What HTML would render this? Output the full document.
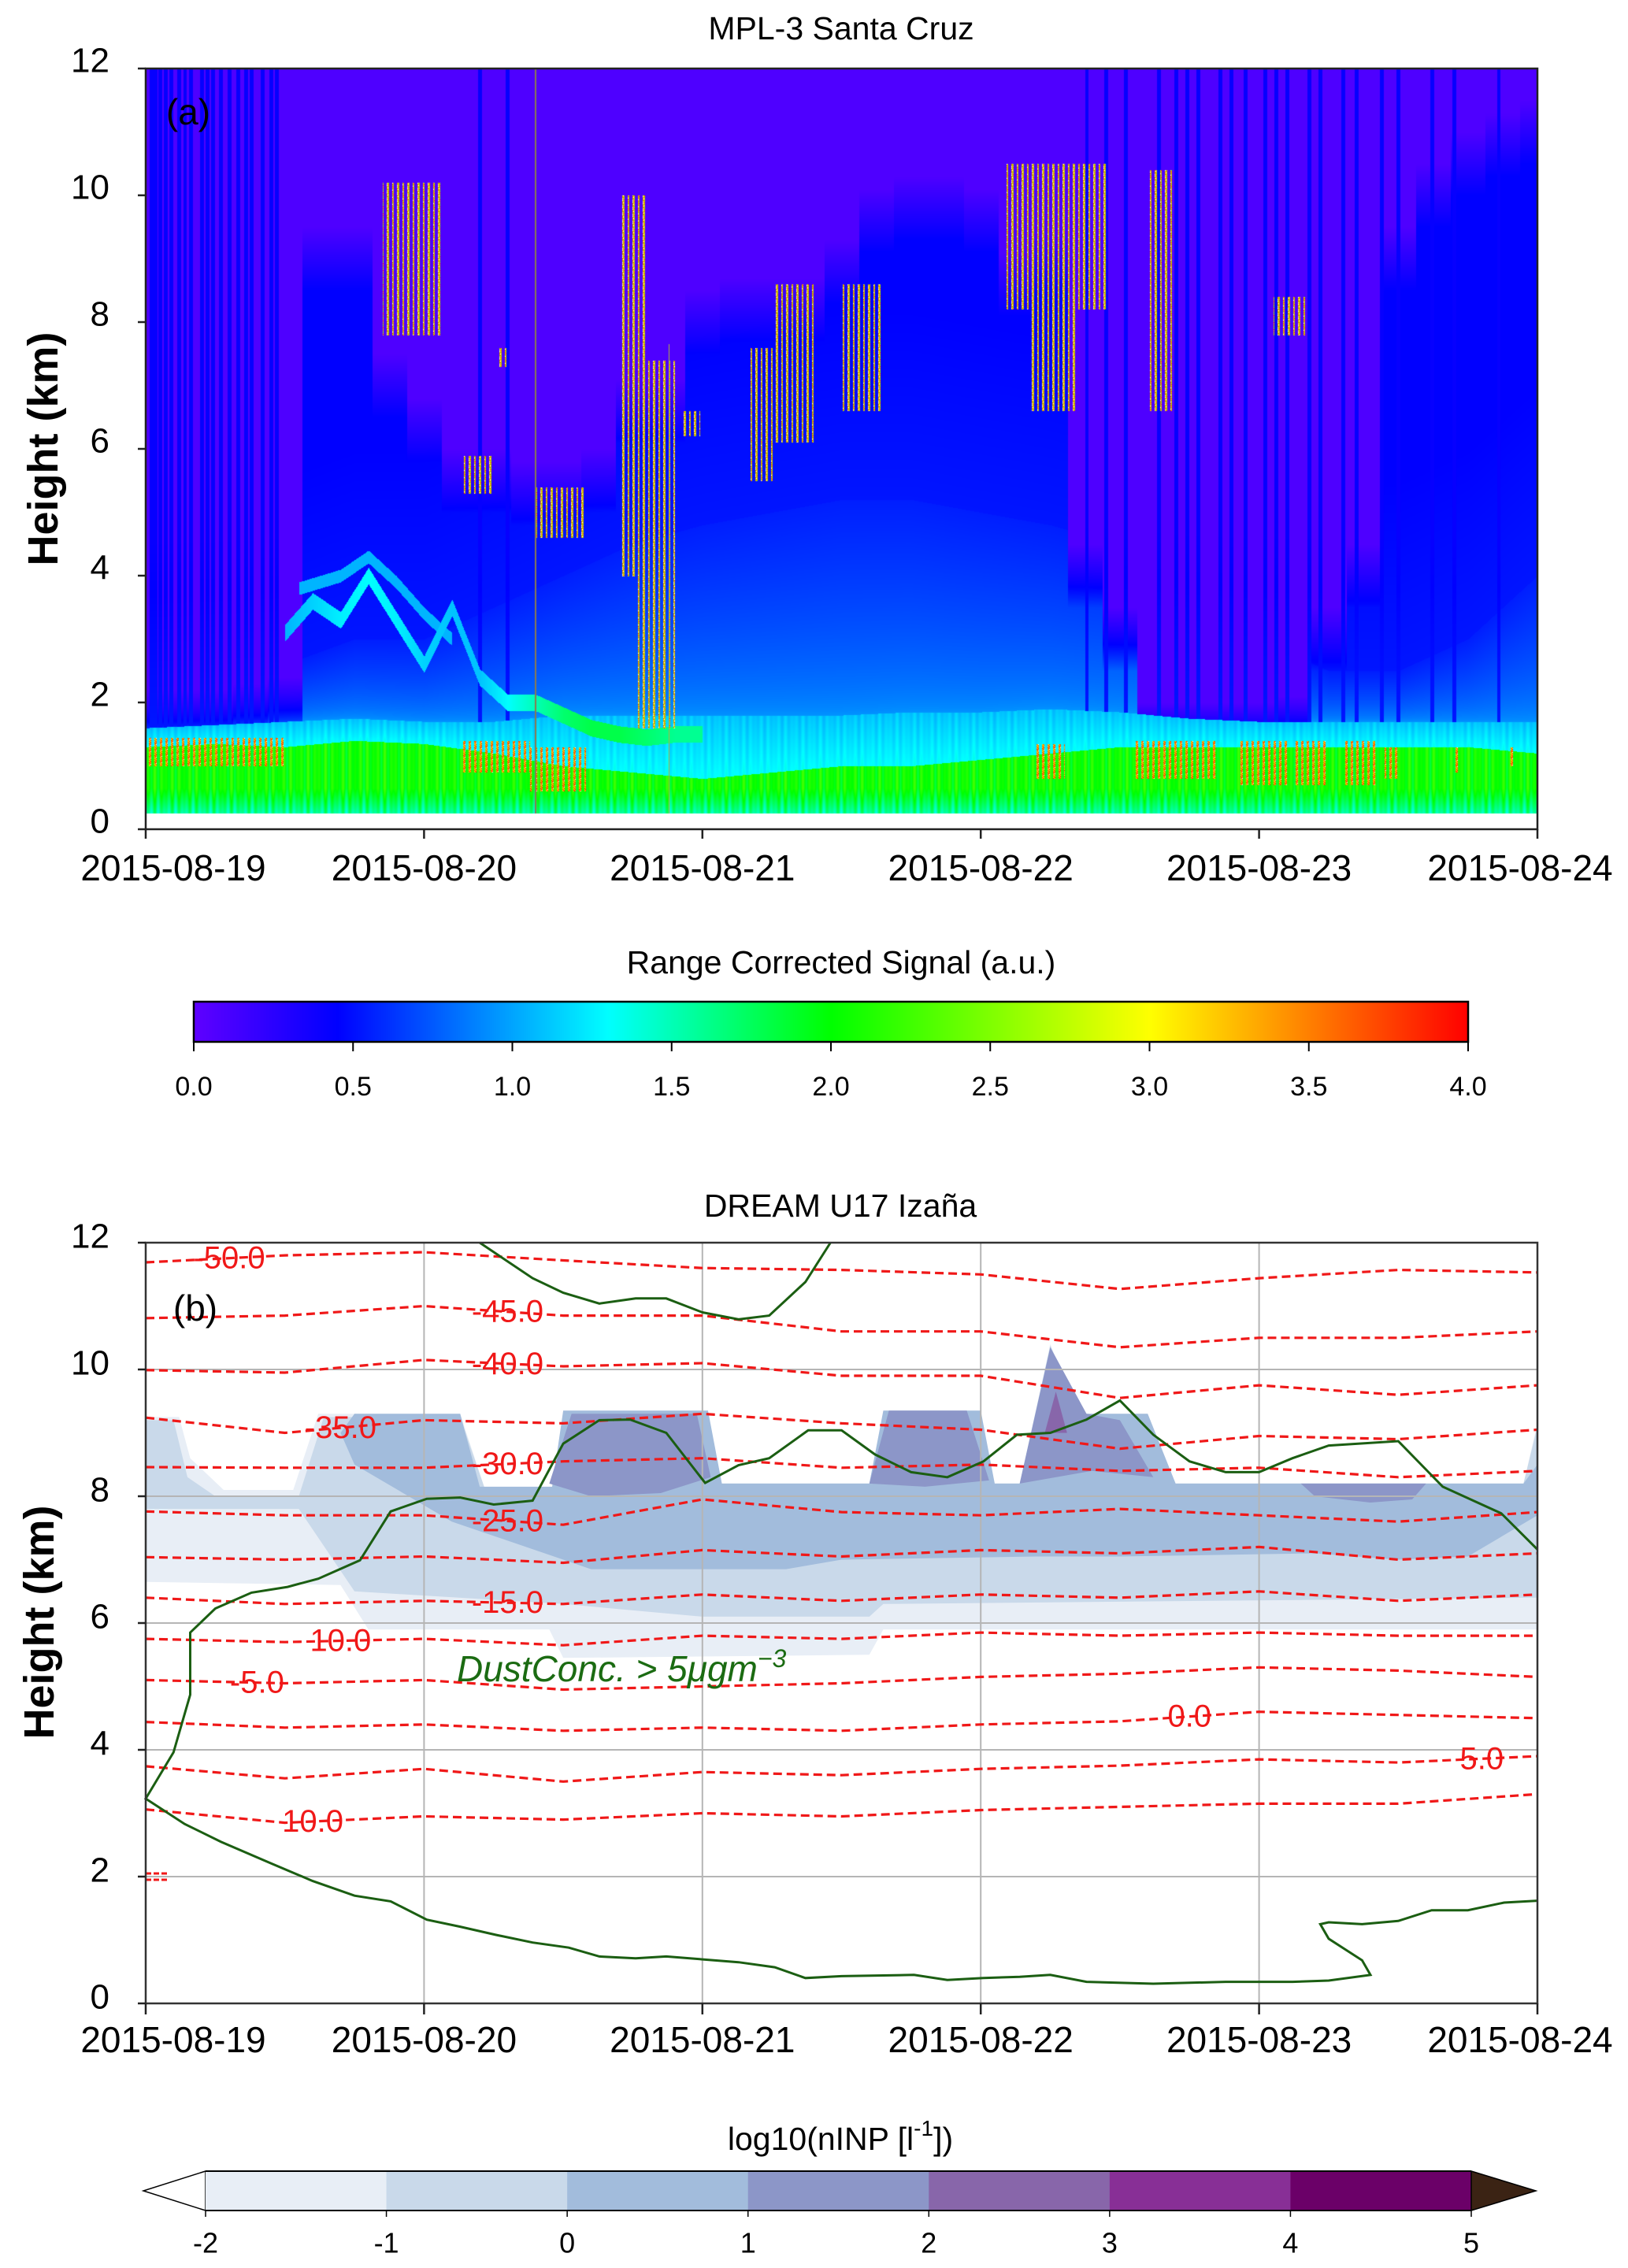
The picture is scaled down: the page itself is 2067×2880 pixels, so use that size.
<!DOCTYPE html>
<html><head><meta charset="utf-8"><title>MPL-3 Santa Cruz / DREAM U17 Izaña</title>
<style>
html,body{margin:0;padding:0;background:#fff;}
#page{position:relative;width:2067px;height:2880px;overflow:hidden;background:#fff;font-family:"Liberation Sans",sans-serif;}
canvas{position:absolute;}
svg{position:absolute;left:0;top:0;}
</style></head>
<body>
<div id="page">
<canvas id="lidar" width="1767" height="966" style="left:185px;top:87px;width:1767px;height:966px"></canvas>
<canvas id="cbarA" width="1618" height="51" style="left:246px;top:1272px;width:1618px;height:51px"></canvas>
<svg id="svg" width="2067" height="2880"></svg>
</div>
<script>
// ---------- Panel (a) data ----------
const purpleBase=[1.7,1.7,1.7,1.8,1.9,9.0,9.0,7.0,6.3,5.5,5.5,5.3,5.3,5.5,6.6,6.6,8.0,8.2,8.2,8.2,8.8,9.6,9.8,9.8,9.6,8.6,8.9,4.0,3.0,1.5,1.5,1.5,1.5,1.6,3.0,4.0,9.0,10.0,10.5,10.8,11.0];
const blTop=[1.3,1.35,1.3,1.4,1.35,1.2,1.0,0.9,0.8,0.9,1.0,1.0,1.1,1.2,1.3,1.3,1.3,1.3,1.3,1.3,1.2];
const cyanTop=[1.6,1.65,1.7,1.75,1.7,1.7,1.8,1.8,1.8,1.8,1.8,1.85,1.85,1.9,1.85,1.75,1.7,1.7,1.7,1.7,1.7];
const lightBlueTop=[2.3,2.4,2.6,3.0,3.0,3.5,4.0,4.5,4.8,5.0,5.2,5.2,5.0,4.8,4.5,4.0,3.0,2.5,2.5,3.0,4.0];
const stripeDays=[0.02,0.035,0.05,0.07,0.09,0.12,0.14,0.16,0.2,0.22,0.24,0.27,0.3,0.33,0.36,0.38,0.42,0.45,0.47,1.2,1.3,3.38,3.45,3.52,3.64,3.7,3.74,3.78,3.86,3.9,3.95,4.02,4.06,4.1,4.18,4.22,4.3,4.35,4.44,4.5,4.62,4.7,4.86];
const streakT=[0.5,0.6,0.7,0.8,0.9,1.0,1.1,1.2,1.3,1.4,1.5,1.6,1.7,1.8,1.9,2.0];
const streakH=[3.1,3.6,3.3,4.0,3.3,2.6,3.5,2.4,2.0,2.0,1.8,1.6,1.5,1.45,1.5,1.5];
const streakV=[1.05,1.15,1.25,1.3,1.25,1.15,1.1,1.1,1.3,1.5,1.7,1.8,1.8,1.7,1.6,1.6];
const streak2T=[0.55,0.7,0.8,0.9,1.0,1.1];
const streak2H=[3.8,4.0,4.3,3.9,3.4,3.0];
const clouds=[[0.85,1.06,7.8,10.2],[1.27,1.30,7.3,7.6],[1.14,1.25,5.3,5.9],[1.40,1.58,4.6,5.4],[1.71,1.80,4.0,10.0],[1.76,1.90,1.6,7.4],[1.93,1.99,6.2,6.6],[2.16,2.26,5.5,7.6],[2.26,2.41,6.1,8.6],[2.50,2.64,6.6,8.6],[3.08,3.45,8.2,10.5],[3.18,3.35,6.6,8.2],[3.60,3.69,6.6,10.4],[4.05,4.17,7.8,8.4]];
const hotspots=[[0,0.5,1.0,1.45],[1.13,1.38,0.9,1.4],[1.38,1.58,0.6,1.3],[3.2,3.3,0.8,1.35],[3.55,3.85,0.8,1.4],[3.93,4.1,0.7,1.4],[4.12,4.25,0.7,1.4],[4.3,4.42,0.7,1.4],[4.45,4.5,0.8,1.3],[4.7,4.72,0.9,1.3],[4.9,4.92,1.0,1.3]];
const dayLabels=["2015-08-19","2015-08-20","2015-08-21","2015-08-22","2015-08-23","2015-08-24"];
const heightTicks=[0,2,4,6,8,10,12];
const signalTicks=[0.0,0.5,1.0,1.5,2.0,2.5,3.0,3.5,4.0];

// ---------- Panel (b) data ----------
const contourLevels=[-50,-45,-40,-35,-30,-25,-20,-15,-10,-5,0,5,10];
const contourTimes=[0,0.5,1,1.5,2,2.5,3,3.5,4,4.5,5];
const cM50=[11.69,11.8,11.85,11.72,11.6,11.57,11.5,11.27,11.44,11.57,11.53];
const cM45=[10.81,10.85,11.0,10.85,10.85,10.6,10.6,10.35,10.5,10.5,10.6];
const cM40=[9.99,9.95,10.15,10.05,10.1,9.9,9.9,9.55,9.75,9.6,9.75];
const cM35=[9.24,9.0,9.2,9.15,9.3,9.15,9.05,8.75,8.95,8.9,9.05];
const cM30=[8.46,8.45,8.45,8.55,8.6,8.45,8.5,8.4,8.45,8.3,8.4];
const cM25=[7.76,7.7,7.7,7.55,7.95,7.75,7.7,7.8,7.7,7.6,7.75];
const cM20=[7.04,7.0,7.05,6.95,7.15,7.05,7.15,7.1,7.2,7.0,7.1];
const cM15=[6.4,6.3,6.35,6.3,6.45,6.35,6.45,6.4,6.5,6.35,6.45];
const cM10=[5.75,5.7,5.75,5.65,5.8,5.75,5.85,5.8,5.85,5.8,5.8];
const cM05=[5.1,5.05,5.1,4.95,5.0,5.05,5.15,5.2,5.3,5.25,5.15];
const c000=[4.44,4.35,4.4,4.3,4.35,4.3,4.4,4.45,4.6,4.55,4.5];
const cP05=[3.74,3.55,3.7,3.5,3.65,3.6,3.7,3.75,3.85,3.8,3.9];
const cP10=[3.06,2.85,2.95,2.9,3.0,2.95,3.05,3.1,3.15,3.15,3.3];
const contourLines=[cM50,cM45,cM40,cM35,cM30,cM25,cM20,cM15,cM10,cM05,c000,cP05,cP10];
const labelLevels=["-50.0","-45.0","-40.0","-35.0","-30.0","-25.0","-15.0","10.0","-5.0","0.0","5.0","10.0"];
const labelIndex=[0,1,2,3,4,5,7,8,9,10,11,12];
const labelDay=[0.3,1.3,1.3,0.7,1.3,1.3,1.3,0.7,0.4,3.75,4.8,0.6];
const inpM2=[[0,9.25],[0.12,9.25],[0.16,8.6],[0.28,8.1],[0.53,8.1],[0.62,9.3],[1.13,9.3],[1.22,8.1],[1.46,8.1],[1.5,9.35],[2.02,9.35],[2.07,8.2],[2.6,8.2],[2.65,9.35],[3.0,9.35],[3.05,8.2],[3.14,8.2],[3.25,10.4],[3.35,9.3],[3.6,9.3],[3.7,8.2],[4.95,8.2],[5.0,9.15],[5.0,5.9],[2.65,5.9],[2.6,5.5],[1.5,5.45],[1.45,5.9],[0.8,5.9],[0.7,6.6],[0,6.65]];
const inpM1=[[0,9.2],[0.1,9.2],[0.15,8.3],[0.25,8.0],[0.55,8.0],[0.64,9.25],[1.13,9.25],[1.22,8.1],[1.46,8.1],[1.5,9.3],[2.02,9.3],[2.07,8.2],[2.6,8.2],[2.65,9.3],[3.0,9.3],[3.05,8.2],[3.14,8.2],[3.25,10.38],[3.35,9.28],[3.6,9.28],[3.7,8.2],[4.95,8.2],[5.0,9.1],[5.0,6.4],[2.65,6.3],[2.6,6.1],[2.0,6.1],[1.5,6.3],[0.75,6.5],[0.55,7.8],[0,7.8]];
const inp0=[[0.7,9.0],[0.75,9.3],[1.13,9.3],[1.2,8.15],[1.46,8.15],[1.5,9.35],[2.02,9.35],[2.07,8.2],[2.6,8.2],[2.65,9.35],[3.0,9.35],[3.05,8.2],[3.14,8.2],[3.25,10.35],[3.35,9.3],[3.6,9.3],[3.7,8.2],[4.95,8.2],[5.0,8.5],[5.0,7.7],[4.75,7.05],[4.5,7.0],[4.2,7.1],[3.5,7.05],[3.2,7.05],[2.5,7.0],[2.3,6.85],[1.6,6.85],[1.5,7.0],[1.1,7.6],[0.75,8.5]];
const inp1a=[[1.45,8.2],[1.53,9.3],[1.98,9.3],[2.03,8.3],[1.85,8.05],[1.6,8.0]];
const inp1b=[[2.6,8.2],[2.67,9.35],[2.95,9.35],[3.03,8.25],[2.8,8.15]];
const inp1c=[[3.14,8.2],[3.25,10.35],[3.38,9.3],[3.5,9.2],[3.62,8.3],[3.4,8.4]];
const inp1d=[[4.15,8.2],[4.6,8.2],[4.55,7.95],[4.4,7.9],[4.2,8.0]];
const inp2a=[[3.23,9.0],[3.27,9.65],[3.31,9.0]];
const dustUpper=[[1.2,12.0],[1.39,11.44],[1.5,11.21],[1.63,11.04],[1.76,11.12],[1.87,11.12],[2.0,10.9],[2.13,10.79],[2.24,10.85],[2.37,11.38],[2.46,12.0]];
const dustMain=[[5.0,7.16],[4.87,7.73],[4.77,7.93],[4.66,8.15],[4.5,8.87],[4.25,8.8],[4.12,8.6],[4.0,8.38],[3.88,8.38],[3.75,8.55],[3.62,8.97],[3.5,9.51],[3.38,9.21],[3.25,9.0],[3.13,8.97],[3.01,8.55],[2.88,8.3],[2.75,8.38],[2.62,8.66],[2.5,9.04],[2.38,9.04],[2.24,8.6],[2.13,8.49],[2.01,8.21],[1.87,9.0],[1.74,9.21],[1.63,9.2],[1.5,8.83],[1.39,7.93],[1.25,7.87],[1.13,7.98],[1.01,7.96],[0.88,7.76],[0.77,6.99],[0.62,6.7],[0.51,6.57],[0.38,6.48],[0.25,6.23],[0.16,5.85],[0.16,4.87],[0.1,3.96],[0,3.23],[0.14,2.83],[0.27,2.55],[0.45,2.21],[0.6,1.93],[0.75,1.7],[0.88,1.61],[1.01,1.32],[1.13,1.21],[1.26,1.08],[1.39,0.96],[1.52,0.88],[1.63,0.74],[1.76,0.71],[1.87,0.74],[2.13,0.65],[2.26,0.57],[2.37,0.4],[2.5,0.43],[2.76,0.45],[2.88,0.37],[3.01,0.4],[3.14,0.42],[3.25,0.45],[3.38,0.34],[3.62,0.31],[3.88,0.34],[4.12,0.34],[4.25,0.36],[4.4,0.45],[4.37,0.68],[4.25,1.02],[4.22,1.25],[4.25,1.28],[4.37,1.25],[4.5,1.3],[4.62,1.47],[4.75,1.47],[4.88,1.59],[5.0,1.62]];
const inpColors=["#e8eef6","#c9d9ea","#a2bcdc","#8c96c8","#8866aa","#882f96","#6b0068"];
const inpTicks=["-2","-1","0","1","2","3","4","5"];

// ---------- scales ----------
const X0=185,X1=1952;
const xd=d=>X0+d*(X1-X0)/5;
const yA=k=>1053-k*80.5;
const yB=k=>2544-k*80.5;
const NS="http://www.w3.org/2000/svg";
const svg=document.getElementById('svg');
function mk(tag,attrs,parent){const e=document.createElementNS(NS,tag);for(const k in attrs)e.setAttribute(k,attrs[k]);(parent||svg).appendChild(e);return e;}
function txt(s,x,y,size,opts){const e=mk('text',Object.assign({x:x,y:y,'font-size':size,'font-family':'"Liberation Sans",sans-serif','text-anchor':'middle','dominant-baseline':'central',fill:'#000'},opts||{}));e.textContent=s;return e;}

// ---------- lidar heatmap ----------
function interp(arr,step,t){const i=t/step;const i0=Math.max(0,Math.min(arr.length-1,Math.floor(i)));const i1=Math.min(arr.length-1,i0+1);const f=Math.max(0,Math.min(1,i-i0));return arr[i0]*(1-f)+arr[i1]*f;}
function interpXY(ts,hs,t){if(t<ts[0]||t>ts[ts.length-1])return null;for(let i=0;i<ts.length-1;i++){if(t>=ts[i]&&t<=ts[i+1]){const f=(t-ts[i])/(ts[i+1]-ts[i]);return hs[i]*(1-f)+hs[i+1]*f;}}return hs[hs.length-1];}
const cstops=[[0,[95,0,255]],[0.45,[0,0,255]],[1.3,[0,255,255]],[2.0,[0,255,0]],[3.0,[255,255,0]],[4.0,[255,0,0]]];
function cmap(v){if(v>4.05)return[255,255,255];if(v<=0)return cstops[0][1];for(let i=0;i<cstops.length-1;i++){const a=cstops[i],b=cstops[i+1];if(v<=b[0]){const f=(v-a[0])/(b[0]-a[0]);return[a[1][0]+(b[1][0]-a[1][0])*f,a[1][1]+(b[1][1]-a[1][1])*f,a[1][2]+(b[1][2]-a[1][2])*f];}}return[255,0,0];}
(function(){
 const cv=document.getElementById('lidar');const ctx=cv.getContext('2d');const W=cv.width,H=cv.height;
 const img=ctx.createImageData(W,H);const d=img.data;
 for(let px=0;px<W;px++){
  const t=px/W*5;
  const pb=purpleBase[Math.min(purpleBase.length-1,Math.round(t/0.125))];
  const bl=interp(blTop,0.25,t),ct=interp(cyanTop,0.25,t),lb=interp(lightBlueTop,0.25,t);
  let stripe=false;for(const s of stripeDays){if(Math.abs(t-s)<0.007)stripe=true;}
  const sh=interpXY(streakT,streakH,t),sv=interpXY(streakT,streakV,t),sh2=interpXY(streak2T,streak2H,t);
  const tex=0.22*Math.sin(px*0.71)*Math.sin(px*0.13);
  for(let py=0;py<H;py++){
   const h=12-py/H*12;let v;
   if(h<0.25){v=99;}
   else{
    if(h<bl){v=1.55+0.5*Math.min(1,(h-0.25)/0.4)+tex;}
    else if(h<ct){v=1.3-0.2*(h-bl)/(ct-bl)+tex*0.3;}
    else if(h<lb){v=0.95-0.4*Math.pow((h-ct)/(lb-ct),0.6);}
    else{v=0.52-0.07*Math.min(1,(h-lb)/3);}
    if(h>pb+0.5)v=0.08;else if(h>pb-0.5&&h>ct){const f=(h-pb+0.5)/1.0;v=v*(1-f)+0.08*f;}
    if(stripe&&h>ct)v=0.42+0.1*Math.max(0,1-(h-ct)/3);
    if(sh!==null&&Math.abs(h-sh)<0.13)v=Math.max(v,sv);
    if(sh2!==null&&Math.abs(h-sh2)<0.1)v=Math.max(v,1.05);
    for(const c of clouds){if(t>=c[0]&&t<=c[1]&&h>=c[2]&&h<=c[3]){const cc=((px*37)%13)/13,rr=((py*13+px*7)%9)/9;if(cc>0.55)v=Math.max(v,1.4+3.2*(0.4*cc+0.6*rr));}}
    for(const c of hotspots){if(t>=c[0]&&t<=c[1]&&h>=c[2]&&h<=c[3]){const cc=((px*29)%7)/7,rr=((py*11+px*5)%8)/8;if(cc>0.5)v=Math.max(v,2.4+2.0*(0.4*cc+0.6*rr));}}
   }
   const col=v>50?[255,255,255]:cmap(v);const o=(py*W+px)*4;d[o]=col[0];d[o+1]=col[1];d[o+2]=col[2];d[o+3]=255;
  }
 }
 ctx.putImageData(img,0,0);
 ctx.fillStyle='#8a7a50';ctx.fillRect(Math.round(1.398/5*W),0,2,H-20);
 ctx.fillStyle='#b0b040';ctx.fillRect(Math.round(1.88/5*W),350,1,H-370);
})();
(function(){
 const cv=document.getElementById('cbarA');const ctx=cv.getContext('2d');const W=cv.width,H=cv.height;
 for(let px=0;px<W;px++){const c=cmap(px/W*4);ctx.fillStyle='rgb('+c.map(Math.round).join(',')+')';ctx.fillRect(px,0,1,H);}
})();

// ---------- Panel (a) axes ----------
txt('MPL-3 Santa Cruz',1068,36,41);
const gA=mk('g',{});
mk('rect',{x:X0,y:yA(12),width:X1-X0,height:yA(0)-yA(12),fill:'none',stroke:'#222','stroke-width':2.5},gA);
heightTicks.forEach(k=>{mk('line',{x1:175,x2:X0,y1:yA(k),y2:yA(k),stroke:'#222','stroke-width':2.5},gA);const t=txt(String(k),139,yA(k)-10,44,{'text-anchor':'end'});});
dayLabels.forEach((s,i)=>{mk('line',{x1:xd(i),x2:xd(i),y1:yA(0),y2:yA(0)+12,stroke:'#222','stroke-width':2.5},gA);const t=txt(s,i==5?1930:xd(i)+(i==0?35:0),1102,46);});
const ya=txt('Height (km)',55,570,54,{'font-weight':'bold',transform:'rotate(-90 55 570)'});
const la=txt('(a)',239,142,46);
const cat=txt('Range Corrected Signal (a.u.)',1068,1222,41);
mk('rect',{x:246,y:1272,width:1618,height:51,fill:'none',stroke:'#000','stroke-width':2.5});
signalTicks.forEach(v=>{const x=246+v/4*1618;mk('line',{x1:x,x2:x,y1:1323,y2:1335,stroke:'#000','stroke-width':2});const t=txt(v.toFixed(1),x,1380,34);});

// ---------- Panel (b) ----------
const tb=txt('DREAM U17 Izaña',1067,1531,41);
const gB=mk('g',{});
const ptsStr=(pts)=>pts.map(p=>xd(p[0]).toFixed(1)+','+yB(p[1]).toFixed(1)).join(' ');
const inpPolys=[[inpM2,0],[inpM1,1],[inp0,2],[inp1a,3],[inp1b,3],[inp1c,3],[inp1d,3],[inp2a,4]];
inpPolys.forEach((p,i)=>{const e=mk('polygon',{points:ptsStr(p[0]),fill:inpColors[p[1]],stroke:'none'},gB);});
for(let i=1;i<5;i++){const g=mk('line',{x1:xd(i),x2:xd(i),y1:yB(12),y2:yB(0),stroke:'#b5b5b5','stroke-width':2},gB);}
[2,4,6,8,10].forEach(k=>{const g=mk('line',{x1:X0,x2:X1,y1:yB(k),y2:yB(k),stroke:'#b5b5b5','stroke-width':2},gB);});
contourLines.forEach((arr,i)=>{const pts=contourTimes.map((t,j)=>[t,arr[j]]);const e=mk('polyline',{points:ptsStr(pts),fill:'none',stroke:'#f01818','stroke-width':3.2,'stroke-dasharray':'11,6'},gB);});
mk('line',{x1:X0,x2:X0+28,y1:yB(1.95),y2:yB(1.95),stroke:'#f01818','stroke-width':3,'stroke-dasharray':'7,3'},gB);
mk('line',{x1:X0,x2:X0+28,y1:yB(2.05),y2:yB(2.05),stroke:'#f01818','stroke-width':3,'stroke-dasharray':'7,3'},gB);
labelLevels.forEach((s,i)=>{const arr=contourLines[labelIndex[i]];const k=interpXY(contourTimes,arr,labelDay[i]);const t=txt(s,xd(labelDay[i]),yB(k),40,{fill:'#f01818','font-family':'"Liberation Sans Narrow","Liberation Sans",sans-serif'});});
[dustUpper,dustMain].forEach((p,i)=>{const e=mk('polyline',{points:ptsStr(p),fill:'none',stroke:'#1b5e12','stroke-width':3},gB);});
const dl=mk('text',{x:580,y:2135,'font-size':46,'font-style':'italic','font-family':'"Liberation Sans Narrow","Liberation Sans",sans-serif',fill:'#1b6b12'});

dl.innerHTML='DustConc. &gt; 5μgm<tspan dy="-18" font-size="32">−3</tspan>';
mk('rect',{x:X0,y:yB(12),width:X1-X0,height:yB(0)-yB(12),fill:'none',stroke:'#333','stroke-width':2.5},gB);
heightTicks.forEach(k=>{mk('line',{x1:175,x2:X0,y1:yB(k),y2:yB(k),stroke:'#222','stroke-width':2.5},gB);const t=txt(String(k),139,yB(k)-8,44,{'text-anchor':'end'});});
dayLabels.forEach((s,i)=>{mk('line',{x1:xd(i),x2:xd(i),y1:yB(0),y2:yB(0)+14,stroke:'#222','stroke-width':2.5},gB);const t=txt(s,i==5?1930:xd(i)+(i==0?35:0),2590,46);});
const yb=txt('Height (km)',50,2060,54,{'font-weight':'bold',transform:'rotate(-90 50 2060)'});
const lb2=txt('(b)',248,1661,46);

// ---------- colorbar (b) ----------
const cbt=mk('text',{x:1067,y:2716,'font-size':41,'text-anchor':'middle','dominant-baseline':'central','font-family':'"Liberation Sans",sans-serif'});

cbt.innerHTML='log10(nINP [l<tspan dy="-14" font-size="28">-1</tspan><tspan dy="14">])</tspan>';
const CB0=261,CB1=1868,CBT=2757,CBB=2807,seg=(CB1-CB0)/7;
const gC=mk('g',{});
mk('polygon',{points:CB0+','+CBT+' 182,'+((CBT+CBB)/2)+' '+CB0+','+CBB,fill:'#fff',stroke:'#000','stroke-width':1.5},gC);
inpColors.forEach((c,i)=>{mk('rect',{x:CB0+i*seg,y:CBT,width:seg+0.5,height:CBB-CBT,fill:c},gC);});
mk('polygon',{points:CB1+','+CBT+' 1950,'+((CBT+CBB)/2)+' '+CB1+','+CBB,fill:'#3b2314',stroke:'#000','stroke-width':1.5},gC);
mk('line',{x1:CB0,x2:CB1,y1:CBT,y2:CBT,stroke:'#000','stroke-width':2},gC);
mk('line',{x1:CB0,x2:CB1,y1:CBB,y2:CBB,stroke:'#000','stroke-width':2},gC);
inpTicks.forEach((s,i)=>{const x=CB0+i*seg;mk('line',{x1:x,x2:x,y1:CBB,y2:CBB+8,stroke:'#000','stroke-width':1.5},gC);const t=txt(s,x,2848,36);});
</script>
</body></html>
